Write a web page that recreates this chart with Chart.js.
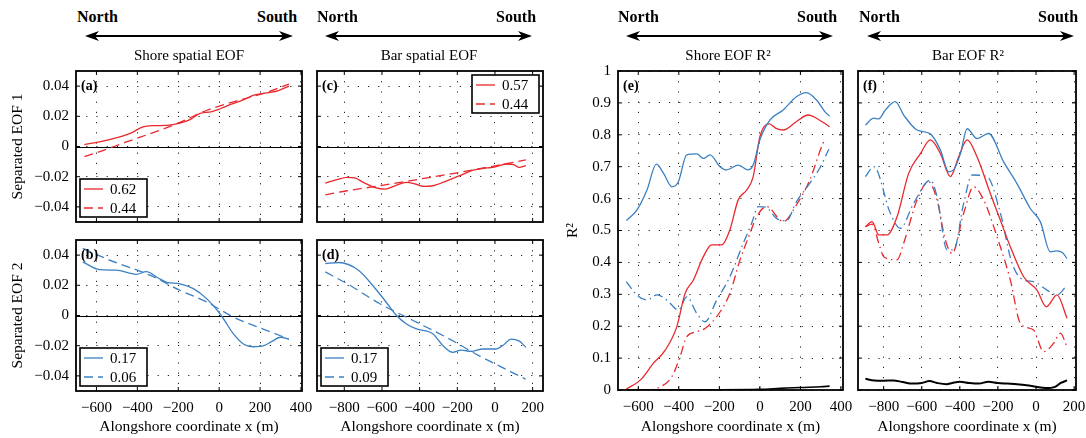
<!DOCTYPE html>
<html>
<head>
<meta charset="utf-8">
<script src="https://cdn.jsdelivr.net/npm/chart.js@4.4.1/dist/chart.umd.min.js"></script>
<style>
  body { margin: 0; background: #fff; width: 1086px; height: 438px; position: relative; overflow: hidden; font-family: 'Liberation Serif', serif; }
  canvas { position: absolute; }
  .dir { position: absolute; top: 8px; font-weight: bold; font-size: 16px; line-height: 18px; }
  .ttl { position: absolute; top: 46px; font-size: 15px; line-height: 18px; transform: translateX(-50%); white-space: nowrap; }
  svg { position: absolute; left: 0; top: 0; }
</style>
</head>
<body>
<svg id="arrows" width="1086" height="60"></svg>
<canvas id="pa"></canvas>
<canvas id="pb"></canvas>
<canvas id="pc"></canvas>
<canvas id="pd"></canvas>
<canvas id="pe"></canvas>
<canvas id="pf"></canvas>
<script>
const RED = '#e8292e';
const BLUE = '#3b80c3';
const FONT = "'Liberation Serif', serif";

// tick values
const xTicksShore = [-600, -400, -200, 0, 200, 400];
const xTicksBar = [-800, -600, -400, -200, 0, 200];
const yTicksEof = [-0.04, -0.02, 0, 0.02, 0.04];
const yTicksR2 = [0, 0.1, 0.2, 0.3, 0.4, 0.5, 0.6, 0.7, 0.8, 0.9, 1];

// (a) shore EOF 1
const aSolidX = [-659, -585, -500, -438, -372, -320, -257, -192, -140, -93, -40, 5, 60, 120, 169, 235, 290, 341];
const aSolidY = [0.0013, 0.003, 0.0058, 0.0085, 0.013, 0.0138, 0.014, 0.0155, 0.018, 0.022, 0.023, 0.025, 0.028, 0.031, 0.034, 0.0355, 0.037, 0.040];
const aDashX = [-659, -569, -454, -306, -192, -60, 70, 235, 341];
const aDashY = [-0.0067, -0.0027, 0.003, 0.010, 0.016, 0.024, 0.0296, 0.036, 0.0413];

// (b) shore EOF 2
const bSolidX = [-667, -585, -503, -405, -356, -300, -257, -192, -126, -60, 5, 70, 120, 169, 218, 260, 300, 341];
const bSolidY = [0.0355, 0.0304, 0.030, 0.0273, 0.029, 0.025, 0.022, 0.021, 0.0178, 0.011, 0.001, -0.0122, -0.019, -0.0207, -0.020, -0.017, -0.0144, -0.0156];
const bDashX = [-667, -536, -339, -192, -60, 70, 235, 341];
const bDashY = [0.0444, 0.0367, 0.0267, 0.0167, 0.0089, -0.0011, -0.010, -0.0156];

// (c) bar EOF 1
const cSolidX = [-901, -840, -786, -740, -699, -640, -584, -530, -470, -420, -382, -330, -276, -220, -171, -125, -83, -40, -13, 20, 58, 100, 128, 164];
const cSolidY = [-0.0242, -0.022, -0.0204, -0.021, -0.0238, -0.027, -0.0282, -0.026, -0.0238, -0.025, -0.0264, -0.026, -0.0238, -0.021, -0.0184, -0.016, -0.0149, -0.0142, -0.0138, -0.0128, -0.0116, -0.012, -0.0138, -0.0127];
const cDashX = [-901, -786, -611, -400, -188, -13, 164];
const cDashY = [-0.032, -0.0293, -0.026, -0.0216, -0.0171, -0.0131, -0.0089];

// (d) bar EOF 2
const dSolidX = [-901, -830, -725, -628, -558, -523, -470, -417, -329, -276, -224, -179, -126, -65, 5, 50, 84, 130, 164];
const dSolidY = [0.0344, 0.0351, 0.030, 0.0167, 0.0056, 0, -0.0056, -0.0089, -0.0122, -0.020, -0.0244, -0.0229, -0.0238, -0.0222, -0.0222, -0.019, -0.0156, -0.017, -0.0211];
const dDashX = [-901, -786, -611, -435, -259, -83, 93, 164];
const dDashY = [0.0289, 0.0211, 0.0078, -0.0033, -0.0144, -0.0267, -0.0378, -0.0422];

// (e) shore R2
const eBlueX = [-659, -607, -557, -511, -475, -434, -402, -361, -311, -279, -246, -197, -164, -107, -58, -33, 0, 49, 115, 180, 230, 279, 328, 344];
const eBlueY = [0.531, 0.564, 0.627, 0.708, 0.679, 0.637, 0.653, 0.737, 0.740, 0.726, 0.737, 0.700, 0.690, 0.705, 0.690, 0.705, 0.784, 0.846, 0.878, 0.919, 0.932, 0.909, 0.867, 0.859];
const eRedX = [-659, -590, -525, -467, -410, -369, -328, -279, -238, -188, -148, -107, -65, -33, 0, 46, 80, 115, 180, 238, 279, 344];
const eRedY = [0.003, 0.031, 0.084, 0.125, 0.198, 0.303, 0.345, 0.418, 0.455, 0.455, 0.502, 0.596, 0.627, 0.669, 0.794, 0.834, 0.820, 0.815, 0.841, 0.862, 0.852, 0.825];
const eBlueDashX = [-659, -607, -557, -508, -459, -402, -361, -311, -271, -213, -148, -82, -41, -8, 30, 82, 130, 180, 246, 295, 340];
const eBlueDashY = [0.340, 0.298, 0.282, 0.298, 0.282, 0.251, 0.292, 0.240, 0.214, 0.282, 0.355, 0.460, 0.522, 0.575, 0.573, 0.538, 0.530, 0.590, 0.648, 0.695, 0.755];
const eRedDashX = [-659, -557, -492, -434, -394, -361, -311, -271, -213, -148, -98, -49, -16, 33, 115, 180, 246, 311, 322];
const eRedDashY = [0, 0, 0.010, 0.042, 0.104, 0.167, 0.183, 0.193, 0.230, 0.303, 0.408, 0.491, 0.543, 0.575, 0.528, 0.580, 0.658, 0.773, 0.785];
const eBlackX = [-659, -400, -200, 0, 100, 200, 300, 344];
const eBlackY = [0.001, 0.001, 0.001, 0.002, 0.005, 0.008, 0.010, 0.012];

// (f) bar R2
const fBlueX = [-896, -852, -826, -791, -739, -695, -625, -555, -502, -459, -433, -397, -362, -310, -249, -170, -100, -30, 23, 75, 110, 140, 163];
const fBlueY = [0.831, 0.852, 0.850, 0.878, 0.904, 0.862, 0.815, 0.803, 0.752, 0.684, 0.690, 0.741, 0.819, 0.788, 0.804, 0.715, 0.647, 0.569, 0.527, 0.433, 0.436, 0.430, 0.412];
const fRedX = [-896, -861, -826, -782, -730, -669, -607, -555, -502, -450, -406, -362, -310, -240, -187, -135, -65, 5, 54, 110, 163];
const fRedY = [0.512, 0.528, 0.486, 0.486, 0.543, 0.679, 0.741, 0.784, 0.741, 0.669, 0.731, 0.784, 0.731, 0.616, 0.532, 0.449, 0.355, 0.313, 0.261, 0.298, 0.225];
const fBlueDashX = [-896, -852, -765, -713, -643, -555, -520, -467, -432, -380, -336, -257, -187, -126, -65, -13, 58, 110, 163];
const fBlueDashY = [0.669, 0.700, 0.554, 0.507, 0.585, 0.658, 0.606, 0.439, 0.439, 0.585, 0.674, 0.669, 0.554, 0.397, 0.345, 0.340, 0.313, 0.298, 0.329];
const fRedDashX = [-896, -860, -826, -800, -730, -695, -625, -564, -520, -476, -441, -380, -328, -275, -205, -135, -82, -13, 40, 92, 128, 163];
const fRedDashY = [0.512, 0.520, 0.460, 0.418, 0.408, 0.460, 0.596, 0.653, 0.596, 0.470, 0.428, 0.554, 0.637, 0.596, 0.481, 0.345, 0.209, 0.188, 0.120, 0.146, 0.178, 0.135];
const fBlackX = [-896, -850, -800, -750, -700, -650, -600, -560, -520, -470, -440, -400, -350, -300, -250, -200, -150, -100, -50, 0, 50, 100, 130, 163];
const fBlackY = [0.035, 0.030, 0.029, 0.030, 0.025, 0.020, 0.022, 0.028, 0.022, 0.018, 0.022, 0.026, 0.022, 0.020, 0.026, 0.022, 0.020, 0.018, 0.015, 0.010, 0.006, 0.010, 0.022, 0.030];

// header arrows: [arrow start, arrow end, title, title centre]
const headers = [
  [85, 293, 'Shore spatial EOF', 189],
  [325, 532, 'Bar spatial EOF', 429],
  [626, 833, 'Shore EOF R\u00B2', 728],
  [867, 1074, 'Bar EOF R\u00B2', 968]
];

const svg = document.getElementById('arrows');
let svgHtml = '';
headers.forEach(([x1, x2, title, tc]) => {
  const y = 36;
  svgHtml += `<line x1="${x1 + 8}" y1="${y}" x2="${x2 - 8}" y2="${y}" stroke="#000" stroke-width="2"/>`;
  svgHtml += `<path d="M${x1},${y} L${x1 + 14},${y - 5} L${x1 + 10},${y} L${x1 + 14},${y + 5} Z" fill="#000"/>`;
  svgHtml += `<path d="M${x2},${y} L${x2 - 14},${y - 5} L${x2 - 10},${y} L${x2 - 14},${y + 5} Z" fill="#000"/>`;
  const n = document.createElement('div');
  n.className = 'dir'; n.textContent = 'North'; n.style.left = (x1 - 8) + 'px';
  document.body.appendChild(n);
  const s = document.createElement('div');
  s.className = 'dir'; s.textContent = 'South'; s.style.left = (x2 - 36) + 'px';
  document.body.appendChild(s);
  const t = document.createElement('div');
  t.className = 'ttl'; t.textContent = title; t.style.left = tc + 'px';
  document.body.appendChild(t);
});
svg.innerHTML = svgHtml;

function pts(xs, ys) {
  return xs.map((x, i) => ({ x: x, y: ys[i] }));
}

function line(xs, ys, color, dash, width) {
  return {
    data: pts(xs, ys),
    borderColor: color,
    borderWidth: width || 1.3,
    borderDash: dash || [],
    pointRadius: 0,
    fill: false,
    cubicInterpolationMode: 'monotone'
  };
}

function fmtMinus(s) {
  return s.replace('-', '\u2212');
}

// draws frame, inward ticks, zero line, panel letter and legend box
const framePlugin = {
  id: 'frame',
  beforeDatasetsDraw(chart, args, o) {
    if (!o.zero) return;
    const { ctx, chartArea: a, scales } = chart;
    const py = Math.round(scales.y.getPixelForValue(0)) + 0.5;
    ctx.save();
    ctx.strokeStyle = '#000';
    ctx.lineWidth = 1;
    ctx.beginPath();
    ctx.moveTo(a.left, py);
    ctx.lineTo(a.right, py);
    ctx.stroke();
    ctx.restore();
  },
  afterDraw(chart, args, o) {
    const { ctx, chartArea: a, scales } = chart;
    ctx.save();
    ctx.strokeStyle = '#000';
    ctx.lineWidth = 1;
    ctx.beginPath();
    scales.x.ticks.forEach(t => {
      const px = scales.x.getPixelForValue(t.value);
      ctx.moveTo(px, a.bottom); ctx.lineTo(px, a.bottom - 4);
      ctx.moveTo(px, a.top); ctx.lineTo(px, a.top + 4);
    });
    scales.y.ticks.forEach(t => {
      const py = scales.y.getPixelForValue(t.value);
      ctx.moveTo(a.left, py); ctx.lineTo(a.left + 4, py);
      ctx.moveTo(a.right, py); ctx.lineTo(a.right - 4, py);
    });
    ctx.stroke();
    ctx.lineWidth = 1.8;
    ctx.strokeRect(a.left, a.top, a.right - a.left, a.bottom - a.top);

    ctx.fillStyle = '#000';
    ctx.font = 'bold 14px ' + FONT;
    ctx.textBaseline = 'middle';
    ctx.fillText(o.letter, a.left + 5, a.top + 15);

    if (o.legend) {
      const w = 67, h = 38;
      const bx = o.legend.corner === 'tr' ? a.right - 4 - w : a.left + 4;
      const by = o.legend.corner === 'tr' ? a.top + 4 : a.bottom - 5 - h;
      ctx.fillStyle = '#fff';
      ctx.fillRect(bx, by, w, h);
      ctx.lineWidth = 1.6;
      ctx.strokeRect(bx, by, w, h);
      o.legend.labels.forEach((lab, i) => {
        const ds = chart.data.datasets[i];
        const ry = by + 10 + i * 19;
        ctx.save();
        ctx.strokeStyle = ds.borderColor;
        ctx.lineWidth = 1.3;
        ctx.setLineDash(ds.borderDash || []);
        ctx.beginPath();
        ctx.moveTo(bx + 4, ry);
        ctx.lineTo(bx + 23, ry);
        ctx.stroke();
        ctx.restore();
        ctx.fillStyle = '#000';
        ctx.font = '15px ' + FONT;
        ctx.fillText(lab, bx + 30, ry + 1);
      });
    }
    ctx.restore();
  }
};

function makePanel(id, cfg) {
  const [L, T, R, B] = cfg.box;
  const topPad = 10, rightPad = 16;
  const cv = document.getElementById(id);
  cv.width = R - L + cfg.lp + rightPad;
  cv.height = B - T + topPad + cfg.bp;
  cv.style.left = (L - cfg.lp) + 'px';
  cv.style.top = (T - topPad) + 'px';

  const tickFont = { family: FONT, size: 15 };
  new Chart(cv, {
    type: 'line',
    data: { datasets: cfg.datasets },
    plugins: [framePlugin],
    options: {
      responsive: false,
      animation: false,
      layout: { autoPadding: false, padding: { left: 0, top: topPad, right: rightPad, bottom: 0 } },
      plugins: {
        legend: { display: false },
        tooltip: { enabled: false },
        frame: { letter: cfg.letter, legend: cfg.legend, zero: cfg.zero }
      },
      scales: {
        x: {
          type: 'linear',
          min: cfg.xMin,
          max: cfg.xMax,
          afterBuildTicks: s => { s.ticks = cfg.xTicks.map(v => ({ value: v })); },
          afterFit: s => { s.height = cfg.bp; s.paddingLeft = 0; s.paddingRight = 0; },
          grid: { color: '#222', lineWidth: 1, drawTicks: false },
          border: { display: false, dash: [1.2, 9] },
          ticks: {
            display: cfg.showX, padding: 8, color: '#000', font: tickFont,
            autoSkip: false, maxRotation: 0,
            callback: v => fmtMinus(String(v))
          },
          title: {
            display: cfg.showX, text: 'Alongshore coordinate x (m)', color: '#000',
            font: { family: FONT, size: 15.5 }, padding: { top: 0, bottom: 2 }
          }
        },
        y: {
          min: cfg.yMin,
          max: cfg.yMax,
          afterBuildTicks: s => { s.ticks = cfg.yTicks.map(v => ({ value: v })); },
          afterFit: s => { s.width = cfg.lp; s.paddingTop = 0; s.paddingBottom = 0; },
          grid: { color: '#222', lineWidth: 1, drawTicks: false },
          border: { display: false, dash: [1.2, 9] },
          ticks: {
            display: cfg.showY, padding: 7, color: '#000', font: tickFont,
            autoSkip: false,
            callback: cfg.yFmt
          },
          title: {
            display: !!cfg.yTitle, text: cfg.yTitle || '', color: '#000',
            font: { family: FONT, size: 15.5 }, padding: { top: cfg.yTitlePad || 0, bottom: 0 }
          }
        }
      }
    }
  });
}

const fmtEof = v => (v === 0 ? '0' : fmtMinus(v.toFixed(2)));
const fmtR2 = v => (v === 0 ? '0' : v === 1 ? '1' : v.toFixed(1));
const DASH = [9, 5];
const DASHDOT = [9, 4, 1.5, 4];

makePanel('pa', {
  box: [76, 71, 302, 222], lp: 76, bp: 8,
  xMin: -700, xMax: 405, xTicks: xTicksShore, showX: false,
  yMin: -0.05, yMax: 0.05, yTicks: yTicksEof, showY: true, yFmt: fmtEof,
  yTitle: 'Separated EOF 1', yTitlePad: 9,
  letter: '(a)', zero: true, legend: { corner: 'bl', labels: ['0.62', '0.44'] },
  datasets: [line(aSolidX, aSolidY, RED), line(aDashX, aDashY, RED, DASH)]
});

makePanel('pb', {
  box: [76, 240, 302, 391], lp: 76, bp: 47,
  xMin: -700, xMax: 405, xTicks: xTicksShore, showX: true,
  yMin: -0.05, yMax: 0.05, yTicks: yTicksEof, showY: true, yFmt: fmtEof,
  yTitle: 'Separated EOF 2', yTitlePad: 9,
  letter: '(b)', zero: true, legend: { corner: 'bl', labels: ['0.17', '0.06'] },
  datasets: [line(bSolidX, bSolidY, BLUE), line(bDashX, bDashY, BLUE, DASH)]
});

makePanel('pc', {
  box: [317, 71, 543, 222], lp: 10, bp: 8,
  xMin: -945, xMax: 255, xTicks: xTicksBar, showX: false,
  yMin: -0.05, yMax: 0.05, yTicks: yTicksEof, showY: false, yFmt: fmtEof,
  letter: '(c)', zero: true, legend: { corner: 'tr', labels: ['0.57', '0.44'] },
  datasets: [line(cSolidX, cSolidY, RED), line(cDashX, cDashY, RED, DASH)]
});

makePanel('pd', {
  box: [317, 240, 543, 391], lp: 40, bp: 47,
  xMin: -945, xMax: 255, xTicks: xTicksBar, showX: true,
  yMin: -0.05, yMax: 0.05, yTicks: yTicksEof, showY: false, yFmt: fmtEof,
  letter: '(d)', zero: true, legend: { corner: 'bl', labels: ['0.17', '0.09'] },
  datasets: [line(dSolidX, dSolidY, BLUE), line(dDashX, dDashY, BLUE, DASH)]
});

makePanel('pe', {
  box: [618, 71, 843, 390], lp: 56, bp: 48,
  xMin: -700, xMax: 410, xTicks: xTicksShore, showX: true,
  yMin: 0, yMax: 1, yTicks: yTicksR2, showY: true, yFmt: fmtR2,
  yTitle: 'R\u00B2', yTitlePad: 2,
  letter: '(e)', zero: false,
  datasets: [
    line(eBlueX, eBlueY, BLUE),
    line(eRedX, eRedY, RED),
    line(eBlueDashX, eBlueDashY, BLUE, DASHDOT),
    line(eRedDashX, eRedDashY, RED, DASHDOT),
    line(eBlackX, eBlackY, '#000', [], 1.6)
  ]
});

makePanel('pf', {
  box: [858, 71, 1076, 390], lp: 10, bp: 48,
  xMin: -935, xMax: 210, xTicks: xTicksBar, showX: true,
  yMin: 0, yMax: 1, yTicks: yTicksR2, showY: false, yFmt: fmtR2,
  letter: '(f)', zero: false,
  datasets: [
    line(fBlueX, fBlueY, BLUE),
    line(fRedX, fRedY, RED),
    line(fBlueDashX, fBlueDashY, BLUE, DASHDOT),
    line(fRedDashX, fRedDashY, RED, DASHDOT),
    line(fBlackX, fBlackY, '#000', [], 2)
  ]
});
</script>
</body>
</html>
